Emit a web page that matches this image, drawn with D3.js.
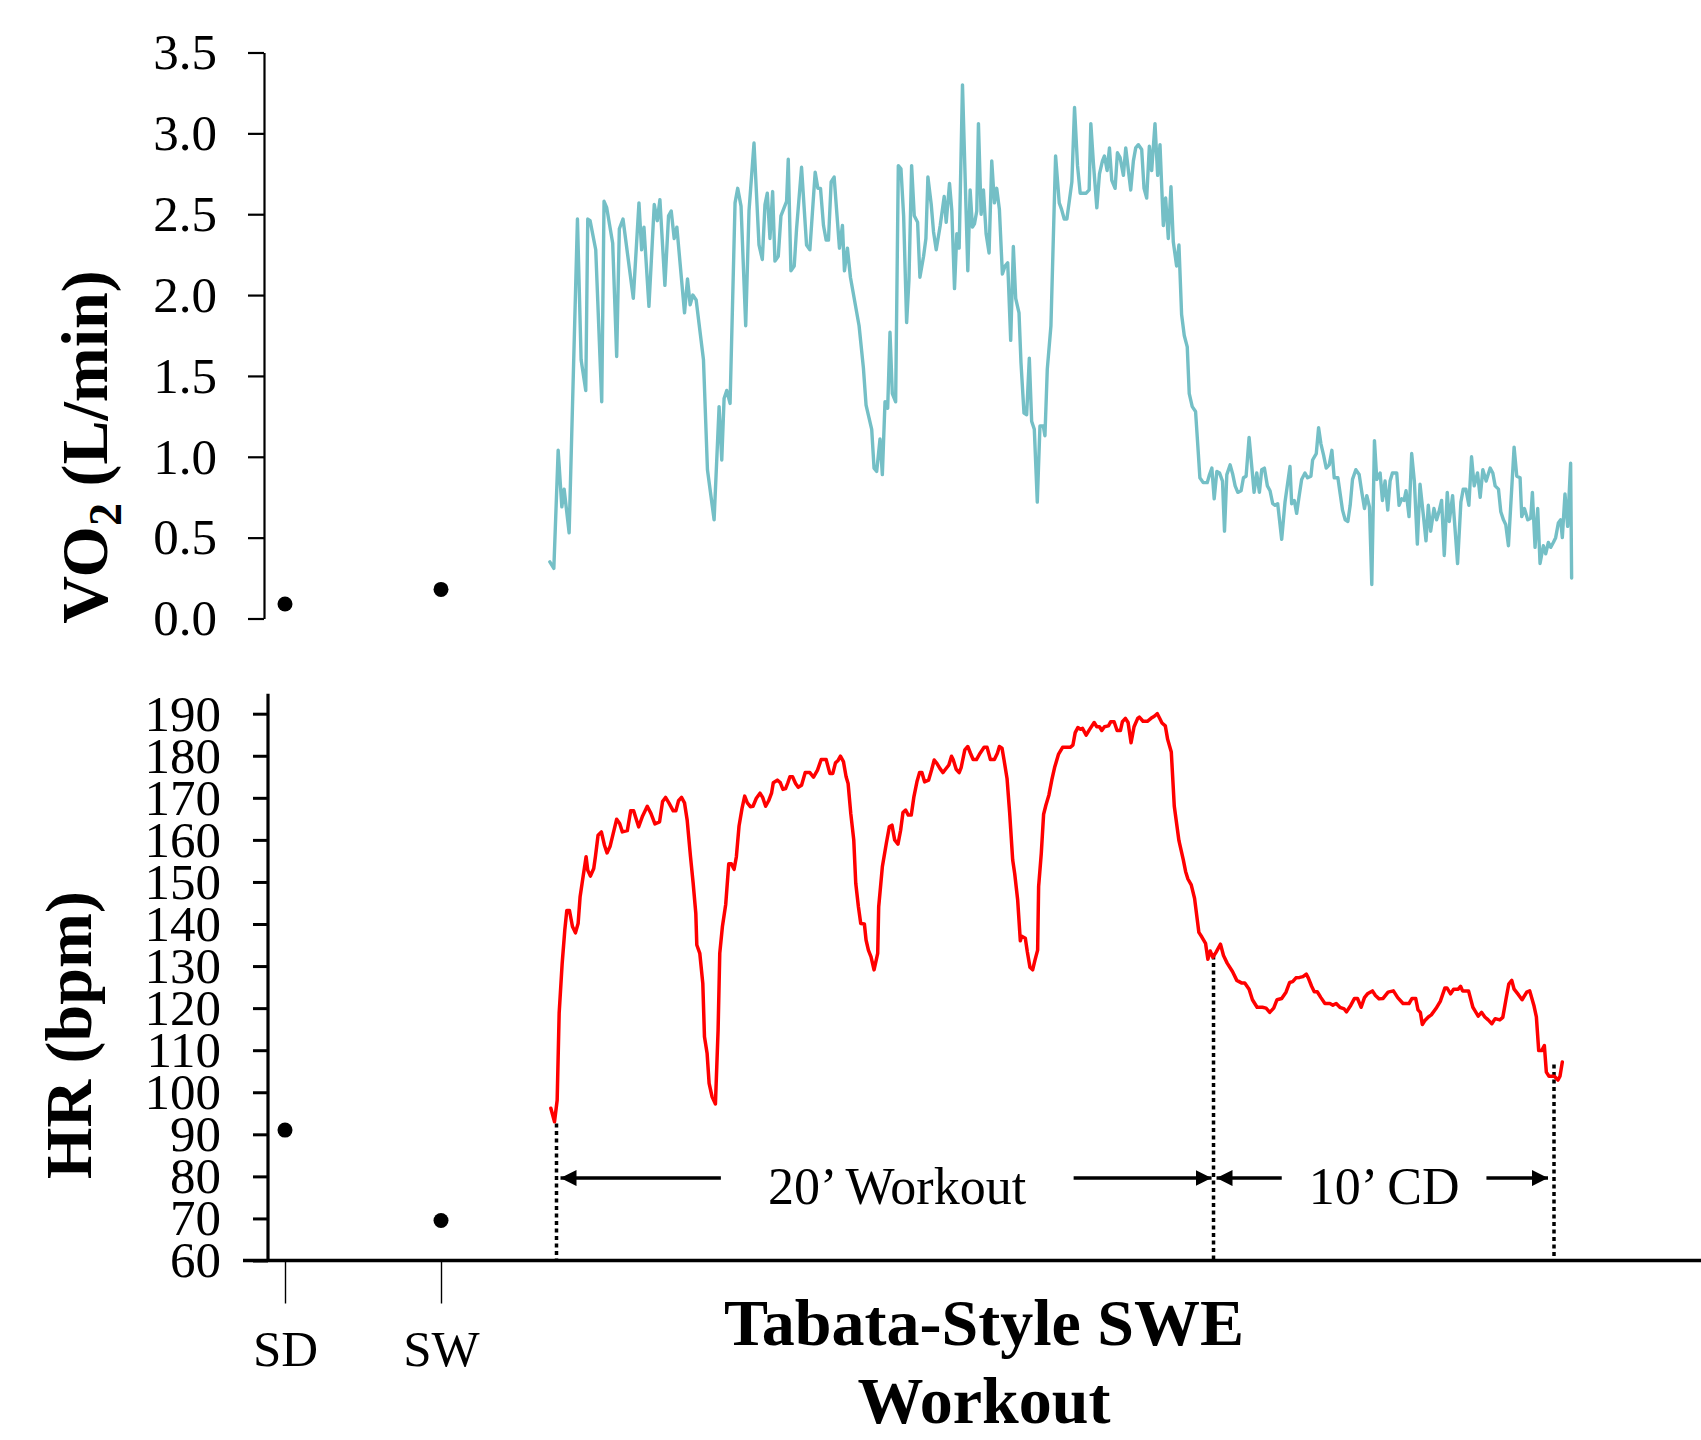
<!DOCTYPE html>
<html>
<head>
<meta charset="utf-8">
<script src="https://cdn.jsdelivr.net/npm/d3@7"></script>
<style>
  body { margin: 0; background: #fff; }
  svg text { font-family: "Liberation Serif", "Times New Roman", serif; fill: #000; }
</style>
</head>
<body>
<div id="root"></div>
<script>
const width = 1701
const height = 1440

// resting measures
const restLabels = ['SD', 'SW']
const restVO2 = [0.09, 0.18]
const restHR = [91, 69.5]

const vo2Ticks = [0, 0.5, 1, 1.5, 2, 2.5, 3, 3.5]
const hrTicks = [60, 70, 80, 90, 100, 110, 120, 130, 140, 150, 160, 170, 180, 190]

// VO2 during the session, time in minutes from the start of the workout
const vo2Time = [
  -0.20, -0.08, 0.05, 0.16, 0.23, 0.38, 0.63, 0.74, 0.88, 0.94, 1.01, 1.18, 1.36, 1.43, 1.51, 1.69, 1.81, 1.89, 2.00, 2.31,
  2.48, 2.56, 2.63, 2.78, 2.94, 3.03, 3.11, 3.26, 3.37, 3.45, 3.54, 3.62, 3.85, 3.94, 4.02, 4.10, 4.20, 4.42, 4.54, 4.74,
  4.89, 4.97, 5.04, 5.12, 5.22, 5.37, 5.45, 5.55, 5.69, 5.79, 5.94,
  6.09, 6.19, 6.27, 6.34, 6.42, 6.50, 6.57, 6.67, 6.75, 6.92, 6.97, 7.05, 7.15, 7.22, 7.37, 7.52, 7.62, 7.78, 7.86, 7.94,
  8.03, 8.11, 8.18, 8.26, 8.35, 8.51, 8.60, 8.66, 8.75, 8.84, 9.10, 9.23, 9.31, 9.48, 9.55, 9.63, 9.73, 9.80, 9.88, 9.96,
  10.03, 10.10, 10.20, 10.28, 10.36, 10.44, 10.53, 10.60, 10.68, 10.76, 10.86, 10.93, 11.04, 11.11, 11.17, 11.27, 11.34, 11.42, 11.54, 11.66,
  11.72, 11.82, 11.89, 11.97, 12.04, 12.11, 12.21,
  12.37, 12.44, 12.51, 12.57, 12.64, 12.69, 12.77, 12.84, 12.92, 13.01, 13.09, 13.17, 13.24, 13.32, 13.41, 13.49, 13.57, 13.66, 13.74, 13.81,
  13.91, 13.97, 14.06, 14.14, 14.22, 14.29, 14.37, 14.46, 14.54, 14.64, 14.69, 14.76, 14.87, 15.01, 15.12, 15.19, 15.27, 15.35, 15.50, 15.58,
  15.67, 15.75, 15.85, 15.93, 16.02, 16.07, 16.15, 16.25, 16.33, 16.42, 16.48, 16.56, 16.63, 16.70, 16.80, 16.87, 16.95, 17.05, 17.12, 17.20,
  17.27, 17.35, 17.42, 17.50, 17.60, 17.67, 17.75, 17.83, 17.90, 18.00, 18.08, 18.15, 18.25, 18.32, 18.40, 18.48, 18.55,
  18.65, 18.72, 18.80, 18.88, 18.97, 19.03, 19.12, 19.22, 19.30, 19.35, 19.45, 19.57, 19.64, 19.71, 19.78, 19.86, 19.94, 20.03, 20.09, 20.16,
  20.26, 20.34, 20.41, 20.49, 20.59, 20.66, 20.74, 20.83, 20.91, 20.98, 21.06, 21.14, 21.21, 21.29, 21.38, 21.46, 21.54, 21.61, 21.69, 21.81,
  21.91, 22.06, 22.11, 22.19, 22.26, 22.33, 22.41, 22.51, 22.59, 22.69, 22.74, 22.85, 22.92, 22.99, 23.07, 23.15, 23.24, 23.32, 23.39, 23.50,
  23.57, 23.64, 23.72, 23.80, 23.87, 23.94, 24.04, 24.14, 24.22, 24.30, 24.37, 24.45, 24.52, 24.60, 24.67, 24.77, 24.84, 24.92,
  25.00, 25.07, 25.14, 25.27, 25.34, 25.42, 25.49, 25.55, 25.64, 25.72, 25.80, 25.89, 25.97, 26.07, 26.15, 26.22, 26.29, 26.39, 26.47, 26.54,
  26.62, 26.70, 26.79, 26.85, 26.95, 27.10, 27.20, 27.27, 27.35, 27.44, 27.52, 27.60, 27.70, 27.78, 27.86, 27.96, 28.08, 28.16, 28.23, 28.33,
  28.40, 28.48, 28.55, 28.63, 28.80, 28.88, 28.98, 29.03, 29.11, 29.21, 29.30, 29.35, 29.43, 29.51, 29.58, 29.68, 29.75, 29.83, 29.90, 29.98,
  30.05, 30.13, 30.20, 30.25, 30.33, 30.41, 30.50, 30.53
]
const vo2Value = [
  0.35, 0.31, 1.04, 0.69, 0.80, 0.53, 2.47, 1.60, 1.41, 2.47, 2.46, 2.28, 1.34, 2.58, 2.54, 2.32, 1.62, 2.41, 2.47, 1.98,
  2.57, 2.28, 2.42, 1.93, 2.56, 2.46, 2.59, 2.06, 2.49, 2.52, 2.35, 2.42, 1.89, 2.10, 1.94, 2.00, 1.97, 1.60, 0.92, 0.61,
  1.31, 0.98, 1.36, 1.41, 1.33, 2.57, 2.66, 2.55, 1.81, 2.52, 2.94,
  2.31, 2.22, 2.56, 2.63, 2.35, 2.64, 2.21, 2.24, 2.49, 2.58, 2.84, 2.15, 2.18, 2.41, 2.79, 2.31, 2.28, 2.76, 2.66, 2.66,
  2.43, 2.34, 2.34, 2.70, 2.73, 2.29, 2.43, 2.15, 2.29, 2.11, 1.81, 1.55, 1.32, 1.17, 0.93, 0.91, 1.11, 0.89, 1.34, 1.30,
  1.77, 1.39, 1.34, 2.80, 2.78, 2.49, 1.83, 2.09, 2.80, 2.49, 2.45, 2.11, 2.24, 2.35, 2.73, 2.56, 2.39, 2.28, 2.43, 2.61,
  2.45, 2.69, 2.52, 2.04, 2.38, 2.29, 3.30,
  2.15, 2.65, 2.42, 2.44, 2.52, 3.06, 2.50, 2.65, 2.38, 2.26, 2.83, 2.57, 2.66, 2.53, 2.13, 2.18, 2.20, 1.72, 2.30, 1.98,
  1.89, 1.58, 1.27, 1.26, 1.61, 1.22, 1.17, 0.72, 1.19, 1.19, 1.13, 1.54, 1.81, 2.86, 2.57, 2.53, 2.47, 2.47, 2.70, 3.16,
  2.80, 2.63, 2.63, 2.63, 2.65, 3.06, 2.81, 2.54, 2.75, 2.83, 2.86, 2.77, 2.91, 2.71, 2.66, 2.88, 2.85, 2.74, 2.91, 2.77,
  2.65, 2.83, 2.91, 2.93, 2.90, 2.66, 2.60, 2.92, 2.77, 3.06, 2.74, 2.93, 2.43, 2.60, 2.35, 2.67, 2.33,
  2.18, 2.31, 1.88, 1.75, 1.68, 1.39, 1.31, 1.28, 1.03, 0.87, 0.84, 0.84, 0.89, 0.93, 0.74, 0.91, 0.90, 0.85, 0.54, 0.89,
  0.95, 0.89, 0.82, 0.78, 0.79, 0.87, 0.88, 1.12, 0.94, 0.78, 0.90, 0.78, 0.92, 0.93, 0.82, 0.79, 0.71, 0.70, 0.71, 0.49,
  0.72, 0.94, 0.71, 0.73, 0.65, 0.75, 0.86, 0.90, 0.87, 0.88, 0.98, 1.02, 1.18, 1.08, 1.01, 0.93, 0.95, 1.04, 0.87, 0.87,
  0.77, 0.67, 0.61, 0.60, 0.70, 0.86, 0.92, 0.89, 0.78, 0.68, 0.76, 0.69, 0.21, 1.10, 0.86, 0.90, 0.73, 0.85,
  0.67, 0.85, 0.90, 0.90, 0.70, 0.74, 0.73, 0.79, 0.63, 1.02, 0.85, 0.46, 0.83, 0.64, 0.48, 0.70, 0.54, 0.68, 0.61, 0.66,
  0.73, 0.39, 0.78, 0.60, 0.76, 0.34, 0.72, 0.80, 0.80, 0.70, 1.00, 0.82, 0.90, 0.75, 0.92, 0.85, 0.93, 0.90, 0.82, 0.80,
  0.66, 0.61, 0.58, 0.45, 1.06, 0.88, 0.87, 0.63, 0.68, 0.61, 0.62, 0.78, 0.44, 0.68, 0.34, 0.45, 0.40, 0.47, 0.44, 0.47,
  0.50, 0.59, 0.61, 0.50, 0.77, 0.57, 0.96, 0.25
]

// heart rate during the session
const hrTime = [
  -0.17, -0.06, 0.02, 0.08, 0.17, 0.25, 0.31, 0.39, 0.48, 0.57, 0.65, 0.71, 0.77, 0.89, 0.94, 1.02, 1.12, 1.17, 1.25, 1.35,
  1.44, 1.52, 1.61, 1.73, 1.81, 1.90, 1.98, 2.13, 2.23, 2.32, 2.47, 2.59, 2.73, 2.84, 2.96, 3.10, 3.19, 3.28, 3.38, 3.51,
  3.59, 3.67, 3.76, 3.85, 3.93, 4.03, 4.11, 4.19, 4.22, 4.31, 4.40, 4.45, 4.53, 4.59, 4.68, 4.78, 4.86, 4.91, 4.99, 5.09,
  5.18, 5.26, 5.34, 5.41, 5.49, 5.58, 5.66, 5.74, 5.83, 5.91, 6.01, 6.12, 6.20, 6.29, 6.38, 6.47, 6.52, 6.64, 6.73, 6.81,
  6.89, 6.96, 7.02, 7.10, 7.19, 7.27, 7.37, 7.48, 7.62, 7.73, 7.85, 7.96, 8.11, 8.22, 8.31, 8.39, 8.46, 8.54, 8.63, 8.71,
  8.77, 8.85, 8.94, 9.00, 9.08, 9.15, 9.26, 9.31, 9.38, 9.46, 9.55, 9.66, 9.69, 9.80, 9.92, 10.01, 10.09, 10.17, 10.27, 10.35,
  10.42, 10.50, 10.58, 10.67, 10.75, 10.84, 10.92, 10.99, 11.07, 11.19, 11.28, 11.36, 11.44, 11.53, 11.62, 11.70, 11.80, 11.88, 11.93, 12.02,
  12.11, 12.17, 12.28, 12.37, 12.45, 12.53, 12.63, 12.74, 12.86, 12.95, 13.05, 13.17, 13.26, 13.32, 13.40, 13.46, 13.55, 13.63, 13.72, 13.78,
  13.87, 13.95, 13.99, 14.10, 14.16, 14.24, 14.32, 14.39, 14.47, 14.50, 14.58, 14.65, 14.72, 14.81, 14.90, 14.98, 15.10, 15.22, 15.45, 15.53,
  15.60, 15.68, 15.76, 15.82, 15.93, 16.02, 16.17, 16.25, 16.33, 16.40, 16.48, 16.60, 16.67, 16.77, 16.86, 16.96, 17.02, 17.11, 17.19, 17.28,
  17.37, 17.48, 17.53, 17.64, 17.77, 17.88, 17.98, 18.07, 18.14, 18.21, 18.31, 18.38, 18.49, 18.58, 18.72, 18.85, 18.92, 18.99, 19.09, 19.19,
  19.32, 19.41, 19.52, 19.59, 19.66, 19.74, 19.83, 19.97, 20.06, 20.17, 20.33, 20.46, 20.60, 20.70, 20.83, 20.93, 21.07, 21.23, 21.34, 21.45,
  21.57, 21.67, 21.81, 21.94, 22.05, 22.14, 22.24, 22.35, 22.45, 22.55, 22.61, 22.71, 22.79, 22.88, 22.99, 23.11, 23.26, 23.35, 23.45, 23.56,
  23.69, 23.76, 23.89, 24.00, 24.09, 24.20, 24.30, 24.39, 24.54, 24.63, 24.74, 24.86, 25.01, 25.17, 25.30, 25.46, 25.64, 25.73, 25.84, 25.91,
  25.98, 26.04, 26.11, 26.22, 26.31, 26.45, 26.58, 26.72, 26.78, 26.89, 26.98, 27.12, 27.19, 27.25, 27.43, 27.56, 27.63, 27.72, 27.82, 27.92,
  28.02, 28.13, 28.23, 28.37, 28.46, 28.56, 28.64, 28.73, 28.80, 28.93, 29.04, 29.18, 29.27, 29.40, 29.47, 29.54, 29.63, 29.71, 29.77, 29.85,
  30.01, 30.12, 30.18, 30.25
]
const hrValue = [
  96.2, 93.0, 98.1, 118.8, 130.6, 138.6, 143.2, 143.2, 139.4, 137.9, 140.1, 146.5, 149.7, 156.0, 152.8, 151.4, 153.2, 156.0, 161.1, 161.9,
  158.8, 156.9, 158.4, 162.3, 164.9, 163.9, 161.9, 162.2, 166.9, 166.9, 163.1, 165.7, 168.0, 166.3, 163.8, 164.3, 169.1, 170.1, 168.8, 166.9,
  166.9, 169.3, 170.1, 168.8, 164.7, 156.0, 149.7, 142.5, 135.0, 133.0, 125.9, 113.2, 109.2, 102.1, 98.9, 97.2, 114.8, 133.0, 139.4, 144.7,
  154.3, 154.3, 153.0, 156.0, 163.3, 167.5, 170.4, 168.8, 167.9, 168.0, 169.9, 171.1, 170.1, 168.0, 169.3, 171.2, 173.6, 174.2, 173.6, 172.0,
  172.2, 173.6, 175.0, 175.0, 173.4, 172.5, 173.0, 176.0, 176.0, 174.9, 176.6, 179.1, 179.1, 175.8, 175.8, 178.3, 178.8, 179.9, 178.6, 175.0,
  173.4, 166.3, 160.0, 149.7, 144.1, 140.1, 140.0, 136.2, 133.8, 132.2, 129.1, 133.0, 144.1, 153.6, 159.2, 163.1, 163.5, 160.0, 159.0, 162.3,
  166.5, 167.1, 165.9, 165.9, 170.3, 173.8, 176.0, 176.0, 173.8, 174.2, 176.6, 179.0, 178.2, 177.0, 176.0, 176.8, 177.8, 179.9, 179.1, 176.8,
  176.0, 177.2, 181.4, 182.2, 180.6, 179.1, 179.1, 180.6, 182.0, 182.0, 179.1, 179.1, 180.6, 182.2, 181.8, 179.0, 174.6, 166.3, 155.2, 152.0,
  145.7, 136.0, 137.1, 136.6, 133.4, 129.7, 129.1, 131.4, 133.8, 148.9, 156.8, 166.1, 168.3, 170.7, 174.4, 177.2, 180.4, 182.0, 182.0, 182.5,
  185.5, 186.7, 186.3, 186.5, 184.9, 186.1, 187.9, 186.9, 186.9, 186.0, 186.9, 187.1, 188.1, 188.1, 186.0, 186.0, 188.1, 188.9, 187.9, 183.1,
  186.9, 188.9, 189.2, 188.2, 188.2, 188.9, 189.4, 190.0, 188.9, 187.8, 187.1, 183.9, 180.9, 168.0, 159.8, 155.3, 152.5, 150.7, 149.3, 146.1,
  138.0, 136.9, 135.4, 131.6, 133.6, 132.1, 133.2, 135.2, 132.5, 130.7, 128.7, 126.6, 126.0, 126.0, 124.5, 122.0, 120.2, 120.2, 120.0, 119.0,
  120.0, 122.0, 122.3, 123.8, 126.1, 126.3, 127.2, 127.3, 127.5, 128.1, 127.2, 125.2, 123.9, 123.9, 122.5, 121.1, 121.1, 120.7, 121.1, 120.2,
  119.8, 119.1, 120.7, 122.3, 122.3, 120.2, 122.5, 123.4, 124.1, 123.0, 122.2, 122.3, 123.8, 124.1, 122.5, 121.1, 121.1, 122.3, 122.3, 119.6,
  119.0, 116.1, 117.0, 117.9, 118.4, 119.9, 121.6, 124.8, 124.8, 123.4, 124.5, 124.5, 125.2, 124.1, 124.1, 120.2, 119.3, 118.1, 119.0, 117.9,
  117.2, 116.3, 117.5, 117.2, 117.8, 122.3, 125.7, 126.6, 124.5, 123.2, 122.0, 123.8, 124.1, 120.5, 117.9, 109.9, 109.9, 111.1, 104.8, 103.8,
  103.8, 102.9, 103.8, 107.2
]

// phase annotations (minutes, HR units)
const markerTimes = [0, 19.76, 30]
const markerTops = [92.6, 132.5, 106.6]
const phaseLabels = ['20\u2019 Workout', '10\u2019 CD']
const phaseStart = [0, 19.76]
const phaseEnd = [19.76, 30]
const phaseLabelAt = [10.24, 24.89]
const arrowLevel = 79.6

const vo2Color = '#74bfc6'
const hrColor = '#ff0000'

const svg = d3.select('#root').append('svg')
  .attr('width', width)
  .attr('height', height)

const defs = svg.append('defs')
defs.append('marker')
  .attr('id', 'arrow')
  .attr('viewBox', '0 0 10 10')
  .attr('refX', 10)
  .attr('refY', 5)
  .attr('markerUnits', 'userSpaceOnUse')
  .attr('markerWidth', 16)
  .attr('markerHeight', 16)
  .attr('orient', 'auto')
  .append('path')
  .attr('d', 'M0,0L10,5L0,10Z')
  .attr('fill', '#000')

const x = d3.scaleLinear().domain([0, 30]).range([556.5, 1554])
const xRest = d3.scalePoint().domain(restLabels).range([285, 441])
const yVO2 = d3.scaleLinear().domain([0, 3.5]).range([618.5, 52.5])
const yHR = d3.scaleLinear().domain([60, 190]).range([1260.5, 713.7])

// ---- top panel: VO2
const gTop = svg.append('g')
  .attr('transform', 'translate(264,0)')
  .call(d3.axisLeft(yVO2)
    .tickValues(vo2Ticks)
    .tickFormat(d3.format('.1f'))
    .tickSize(16)
    .tickSizeOuter(0)
    .tickPadding(31))
gTop.attr('font-size', null).attr('font-family', null)
gTop.selectAll('text').attr('font-size', 51)
gTop.selectAll('line, path').attr('stroke', '#000').attr('stroke-width', 2.2)

svg.append('text')
  .attr('transform', 'translate(107,447) rotate(-90)')
  .attr('text-anchor', 'middle')
  .attr('font-size', 66)
  .attr('font-weight', 'bold')
  .call(t => {
    t.append('tspan').text('VO')
    t.append('tspan').attr('font-size', 46).attr('dy', 14).text('2')
    t.append('tspan').attr('dy', -14).text(' (L/min)')
  })

const vo2Data = vo2Time.map((t, i) => ({ t, v: vo2Value[i] }))
svg.append('path')
  .datum(vo2Data)
  .attr('fill', 'none')
  .attr('stroke', vo2Color)
  .attr('stroke-width', 3.4)
  .attr('stroke-linejoin', 'round')
  .attr('stroke-linecap', 'round')
  .attr('d', d3.line().x(d => x(d.t)).y(d => yVO2(d.v)))

svg.selectAll('.rest-vo2')
  .data(restLabels)
  .enter().append('circle')
  .attr('cx', d => xRest(d))
  .attr('cy', (d, i) => yVO2(restVO2[i]))
  .attr('r', 7.5)
  .attr('fill', '#000')

// ---- bottom panel: HR
const gBot = svg.append('g')
  .attr('transform', 'translate(268,0)')
  .call(d3.axisLeft(yHR)
    .tickValues(hrTicks)
    .tickSize(15)
    .tickSizeOuter(0)
    .tickPadding(32))
gBot.attr('font-size', null).attr('font-family', null)
gBot.select('.domain').remove()
gBot.selectAll('text').attr('font-size', 51)
gBot.selectAll('line').attr('stroke', '#000').attr('stroke-width', 3)
gBot.append('line')
  .attr('y1', yHR(190) - 20)
  .attr('y2', yHR(60))
  .attr('stroke', '#000')
  .attr('stroke-width', 3.2)

svg.append('text')
  .attr('transform', 'translate(91,1035) rotate(-90)')
  .attr('text-anchor', 'middle')
  .attr('font-size', 66)
  .attr('font-weight', 'bold')
  .text('HR (bpm)')

// x axis for the resting points
const gX = svg.append('g')
  .attr('transform', `translate(0,${yHR(60)})`)
  .call(d3.axisBottom(xRest).tickSize(43).tickSizeOuter(0).tickPadding(26))
gX.attr('font-size', null).attr('font-family', null)
gX.select('.domain').remove()
gX.selectAll('text').attr('font-size', 51)
gX.selectAll('line').attr('stroke', '#000').attr('stroke-width', 1.4)

svg.append('line')
  .attr('x1', 243)
  .attr('x2', width)
  .attr('y1', yHR(60))
  .attr('y2', yHR(60))
  .attr('stroke', '#000')
  .attr('stroke-width', 3.6)

// phase markers
svg.selectAll('.marker')
  .data(markerTimes)
  .enter().append('line')
  .attr('x1', d => x(d))
  .attr('x2', d => x(d))
  .attr('y1', (d, i) => yHR(markerTops[i]))
  .attr('y2', yHR(60))
  .attr('stroke', '#000')
  .attr('stroke-width', 3.5)
  .attr('stroke-dasharray', '4,3.5')

const hrData = hrTime.map((t, i) => ({ t, v: hrValue[i] }))
svg.append('path')
  .datum(hrData)
  .attr('fill', 'none')
  .attr('stroke', hrColor)
  .attr('stroke-width', 3.5)
  .attr('stroke-linejoin', 'round')
  .attr('stroke-linecap', 'round')
  .attr('d', d3.line().x(d => x(d.t)).y(d => yHR(d.v)))

svg.selectAll('.rest-hr')
  .data(restLabels)
  .enter().append('circle')
  .attr('cx', d => xRest(d))
  .attr('cy', (d, i) => yHR(restHR[i]))
  .attr('r', 7.5)
  .attr('fill', '#000')

// phase labels with arrows
const gaps = [47, 27]
const insets = [[4, 2], [3, 6]]
phaseLabels.forEach((label, i) => {
  const ay = yHR(arrowLevel)
  const txt = svg.append('text')
    .attr('x', x(phaseLabelAt[i]))
    .attr('y', ay)
    .attr('dy', '0.5em')
    .attr('text-anchor', 'middle')
    .attr('font-size', 52)
    .text(label)
  const bb = txt.node().getBBox()
  svg.append('line')
    .attr('x1', bb.x - gaps[i])
    .attr('x2', x(phaseStart[i]) + insets[i][0])
    .attr('y1', ay).attr('y2', ay)
    .attr('stroke', '#000')
    .attr('stroke-width', 3.6)
    .attr('marker-end', 'url(#arrow)')
  svg.append('line')
    .attr('x1', bb.x + bb.width + gaps[i])
    .attr('x2', x(phaseEnd[i]) - insets[i][1])
    .attr('y1', ay).attr('y2', ay)
    .attr('stroke', '#000')
    .attr('stroke-width', 3.6)
    .attr('marker-end', 'url(#arrow)')
})

// x axis title
svg.append('text')
  .attr('x', 984)
  .attr('y', 1345)
  .attr('text-anchor', 'middle')
  .attr('font-size', 66)
  .attr('font-weight', 'bold')
  .call(t => {
    t.append('tspan').attr('x', 984).text('Tabata-Style SWE')
    t.append('tspan').attr('x', 984).attr('dy', 78).text('Workout')
  })
</script>
</body>
</html>
